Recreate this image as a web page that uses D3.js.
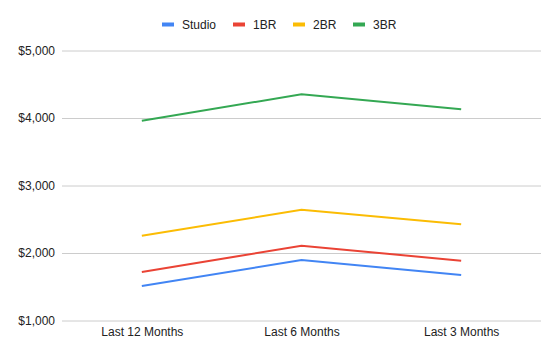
<!DOCTYPE html>
<html><head><meta charset="utf-8">
<script src="https://cdn.jsdelivr.net/npm/d3@7"></script>
<style>body{margin:0;background:#fff}svg{display:block}text{font-family:"Liberation Sans",Arial,sans-serif}</style>
</head><body><svg id="c" width="559" height="358"></svg>
<script>
const categories = ["Last 12 Months", "Last 6 Months", "Last 3 Months"];
const seriesNames = ["Studio", "1BR", "2BR", "3BR"];
const studio = [1511, 1896, 1674];
const br1 = [1719, 2108, 1886];
const br2 = [2256, 2641, 2425];
const br3 = [3960, 4351, 4129];
const yTicks = [1000, 2000, 3000, 4000, 5000];
const colors = ["#4285F4", "#EA4335", "#FBBC04", "#34A853"];
const series = [studio, br1, br2, br3];

(function () {
const svg = d3.select("#c");
const mLeft = 62, mRight = 541, mTop = 50.5, mBottom = 320.5;
const x = d3.scalePoint().domain(categories).range([mLeft, mRight]).padding(0.5);
const y = d3.scaleLinear().domain([1000, 5000]).range([mBottom, mTop]);

const yAxis = svg.append("g").attr("transform", `translate(${mLeft},0)`)
  .call(d3.axisLeft(y).tickValues(yTicks).tickSize(-(mRight-mLeft)).tickFormat(d => "$" + d3.format(",")(d)));
yAxis.select(".domain").remove();
yAxis.selectAll("line").attr("stroke", "#cccccc").attr("stroke-width", 1);
yAxis.selectAll("text").attr("x", -7).attr("fill", "#222").style("font-size", "12px");

const xAxis = svg.append("g").attr("transform", `translate(0,${mBottom})`)
  .call(d3.axisBottom(x).tickSize(0));
xAxis.select(".domain").remove();
xAxis.selectAll("text").attr("dy", "0.71em").attr("y", 7).attr("fill", "#222").style("font-size", "12px");

const line = d3.line().x((d, i) => x(categories[i])).y(d => y(d));
series.forEach((s, k) => {
  svg.append("path").datum(s).attr("d", line).attr("fill", "none")
    .attr("stroke", colors[k]).attr("stroke-width", 2);
});

const legendX = [162, 233, 293, 353];
const lg = svg.append("g");
seriesNames.forEach((n, k) => {
  lg.append("rect").attr("x", legendX[k]).attr("y", 22.5).attr("width", 12).attr("height", 4).attr("fill", colors[k]);
  lg.append("text").attr("x", legendX[k] + 20).attr("y", 24.5).attr("dy", "0.35em")
    .attr("fill", "#222").style("font-size", "12px").text(n);
});
})();
</script></body></html>
